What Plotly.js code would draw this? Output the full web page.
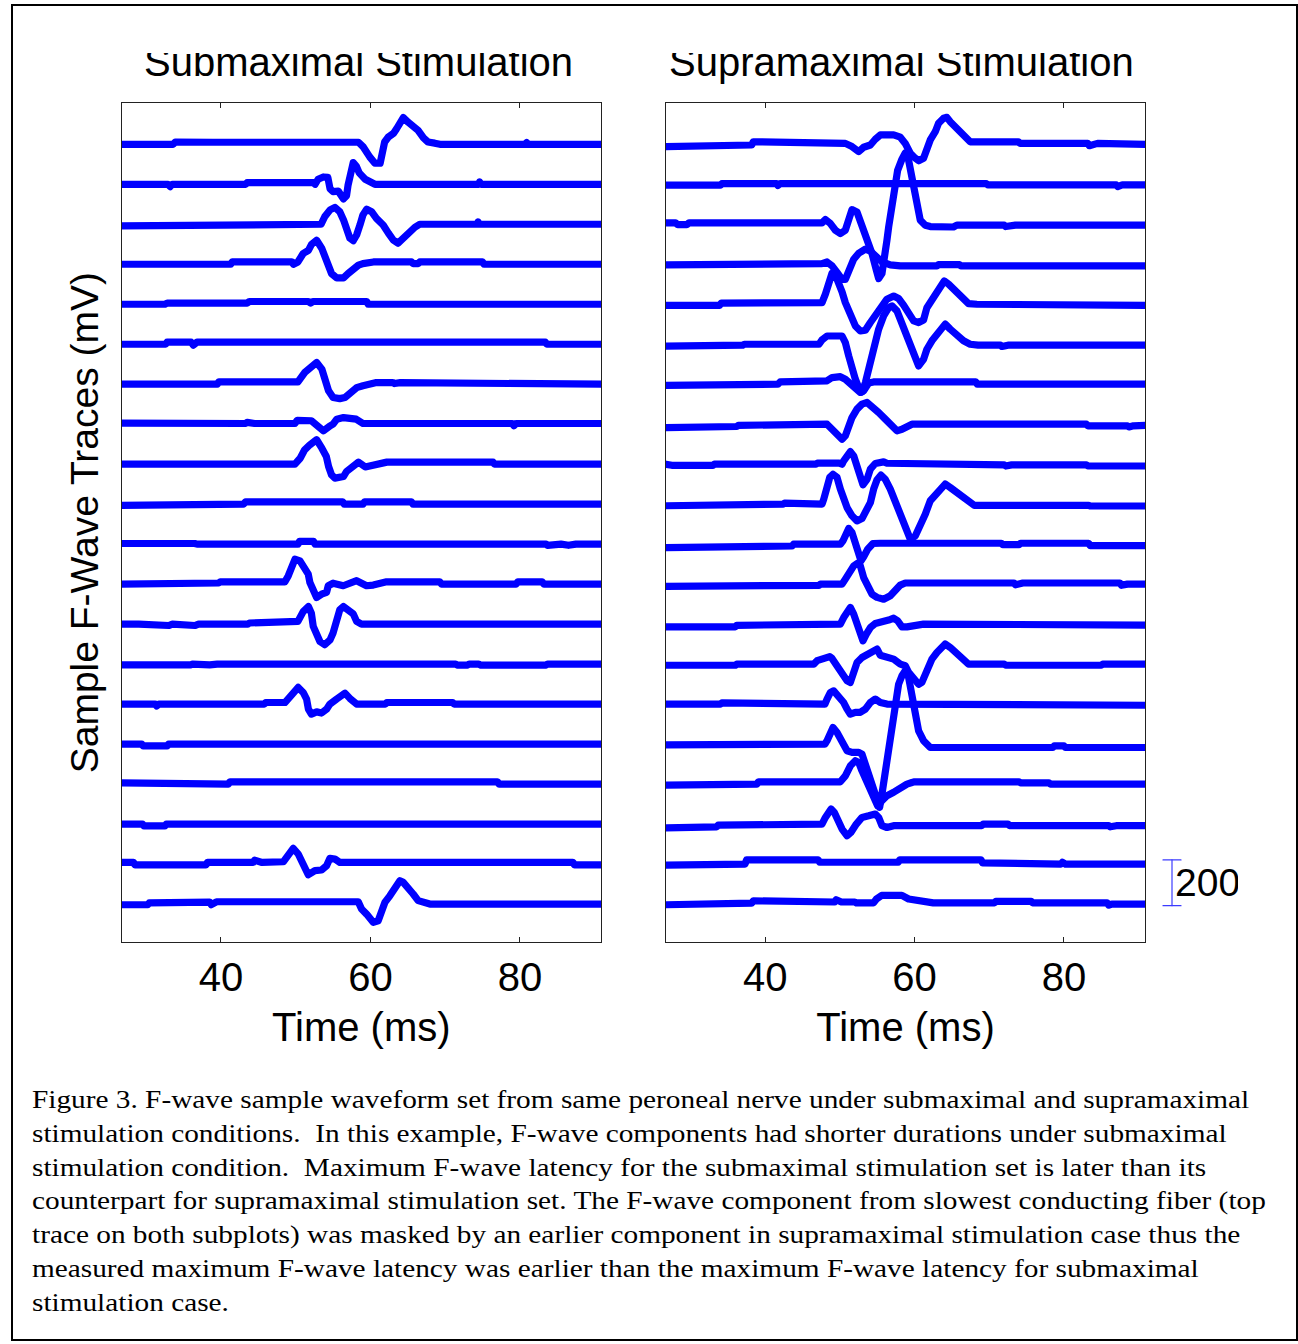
<!DOCTYPE html>
<html>
<head>
<meta charset="utf-8">
<script src="https://cdn.plot.ly/plotly-3.0.1.min.js"></script>
<style>
  html, body { margin: 0; padding: 0; background: #fff; }
  #page { position: relative; width: 1298px; height: 1344px; overflow: hidden; background: #fff; }
  #chart { position: absolute; left: 0; top: 0; width: 1298px; height: 1344px; }
  #chart .scatterlayer path.js-line { stroke-linejoin: round !important; stroke-linecap: round !important; }
  #frame { position: absolute; left: 11px; top: 4px; width: 1287px; height: 1337px; box-sizing: border-box; border: 2px solid #000; pointer-events: none; }
  #clipTitle { position: absolute; left: 120px; top: 14px; width: 1040px; height: 39px; background: #fff; }
  #clipScale { position: absolute; left: 1238px; top: 850px; width: 50px; height: 70px; background: #fff; }
  #caption { position: absolute; left: 32px; top: 1083px; font-family: "Liberation Serif", "Times New Roman", serif; font-size: 25px; line-height: 33.8px; color: #000; white-space: nowrap; transform: scaleX(1.172); transform-origin: left top; }
</style>
</head>
<body>
<div id="page">
  <div id="chart"></div>
  <div id="clipTitle"></div>
  <div id="clipScale"></div>
  <div id="caption">Figure 3. F-wave sample waveform set from same peroneal nerve under submaximal and supramaximal<br>stimulation conditions.&nbsp; In this example, F-wave components had shorter durations under submaximal<br>stimulation condition.&nbsp; Maximum F-wave latency for the submaximal stimulation set is later than its<br>counterpart for supramaximal stimulation set. The F-wave component from slowest conducting fiber (top<br>trace on both subplots) was masked by an earlier component in supramaximal stimulation case thus the<br>measured maximum F-wave latency was earlier than the maximum F-wave latency for submaximal<br>stimulation case.</div>
  <div id="frame"></div>
</div>
<script>
// ---- Data: [time (ms), amplitude] pairs, traces listed top to bottom ----
const panelTitles = ["Submaximal Stimulation", "Supramaximal Stimulation"];
const xTickVals = [40, 60, 80];
const xTitle = "Time (ms)";
const yTitle = "Sample F-Wave Traces (mV)";
const scaleBarLabel = "200";
const scaleBarValue = 200;
const scaleBarBase = -7;

// Submaximal stimulation traces
const sub01 = [[26.7,0],[33.6,0],[33.9,10],[34.8,9],[37.9,9],[38.2,3],[38.6,3],[38.9,9],[58.4,9],[59.0,-10],[59.9,-55],[60.6,-83],[61.3,-83],[61.9,10],[62.4,32],[63.1,48],[63.5,68],[64.4,117],[65.1,95],[65.7,78],[66.4,60],[67.1,28],[67.7,10],[68.6,5],[69.3,0],[80.7,0],[80.9,8],[81.1,0],[90.9,0]];
const sub02 = [[26.7,0],[32.9,0],[33.2,-10],[33.5,0],[43.3,0],[43.5,7],[52.4,7],[52.6,0],[53.0,22],[53.7,32],[54.3,30],[54.6,-20],[55.0,-32],[55.7,-30],[56.4,-64],[56.8,-50],[57.0,-5],[57.3,58],[57.7,95],[58.1,80],[58.5,50],[59.3,22],[60.1,3],[60.6,0],[74.5,0],[74.6,10],[74.8,0],[90.9,0]];
const sub03 = [[26.7,-7],[29.8,-7],[30.0,0],[31.0,-4],[31.5,0],[32.5,-4],[33.0,0],[34.0,-5],[34.3,0],[53.4,0],[53.9,34],[54.6,63],[55.25,74],[55.9,55],[56.4,19],[56.9,-25],[57.25,-61],[57.7,-72],[58.15,-47],[58.6,-3],[59.0,41],[59.5,66],[60.15,55],[60.8,26],[61.7,-3],[62.4,-39],[63.05,-69],[63.7,-83],[64.4,-61],[64.8,-39],[65.5,-25],[65.95,-13],[66.6,0],[74.3,0],[74.4,10],[74.6,0],[90.9,0]];
const sub04 = [[26.7,0],[41.3,0],[41.5,10],[44.1,10],[44.3,3],[44.6,10],[49.5,10],[49.7,0],[50.3,10],[51.0,47],[51.7,61],[52.1,86],[52.8,105],[53.5,69],[54.1,25],[54.6,-19],[54.8,-41],[55.5,-60],[56.4,-60],[57.0,-41],[57.7,-19],[58.4,-4],[59.0,3],[60.4,10],[65.5,10],[65.7,3],[66.4,3],[66.6,10],[75.0,10],[75.2,0],[90.9,0]];
const sub05 = [[26.7,0],[28.0,5],[28.5,0],[32.5,0],[32.8,5],[43.5,5],[43.8,12],[51.7,12],[52.0,5],[52.3,12],[59.5,12],[59.7,0],[89.9,0],[90.2,-6],[90.9,0]];
const sub06 = [[26.7,0],[32.6,0],[32.8,9],[36.0,9],[36.3,-4],[36.8,9],[83.4,9],[83.6,0],[90.9,0]];
const sub07 = [[26.7,0],[39.5,0],[39.7,10],[50.3,10],[51.2,51],[51.9,73],[52.8,95],[53.5,66],[53.9,30],[54.2,-5],[54.4,-29],[55.0,-58],[55.9,-63],[56.6,-58],[57.25,-36],[58.15,-15],[59.0,-7],[60.8,7],[63.0,7],[63.2,3],[64.0,7],[75.5,7],[75.7,0],[90.9,0]];
const sub08 = [[26.7,5],[27.2,5],[27.5,0],[34.0,0],[34.3,3],[43.3,3],[43.5,8],[44.5,3],[49.9,3],[50.2,17],[52.1,15],[53.0,-5],[53.7,-29],[54.6,-7],[55.0,0],[55.5,22],[56.4,29],[58.1,22],[59.0,3],[79.0,3],[79.2,-7],[79.5,3],[90.9,3]];
const sub09 = [[26.7,0],[36.0,0],[36.2,5],[38.0,5],[38.2,0],[49.9,0],[50.6,26],[51.2,63],[51.9,85],[52.8,107],[53.5,70],[54.1,34],[54.4,-10],[54.8,-47],[55.25,-61],[56.4,-54],[56.8,-32],[57.5,-18],[58.4,9],[59.3,-12],[60.4,-6],[62.2,9],[76.4,9],[76.6,0],[90.9,0]];
const sub10 = [[26.7,-5],[31.0,-5],[31.3,0],[43.0,0],[43.3,10],[56.3,10],[56.5,0],[59.0,0],[59.2,10],[65.5,10],[65.7,0],[90.9,0]];
const sub11 = [[26.7,3],[28.0,0],[28.5,3],[36.5,3],[36.8,0],[50.3,0],[50.5,12],[52.4,12],[52.6,0],[83.5,0],[83.7,-5],[85.5,0],[86.5,-5],[87.5,0],[90.9,0]];
const sub12 = [[26.7,0],[37.7,0],[37.9,5],[39.7,5],[39.9,10],[48.56,10],[49.0,36],[49.45,80],[49.9,109],[50.57,102],[51.0,80],[51.68,44],[51.9,7],[52.35,-29],[52.8,-58],[53.46,-44],[54.13,-36],[54.36,-7],[55.0,4],[56.36,-7],[58.15,15],[59.48,-7],[60.37,-4],[62.16,10],[69.3,10],[69.5,0],[79.5,0],[79.7,10],[83.0,10],[83.2,0],[90.9,0]];
const sub13 = [[26.7,0],[28.5,-6],[29.0,0],[33.0,-6],[33.5,0],[36.5,-6],[37.0,0],[43.6,0],[43.8,5],[50.3,12],[51.0,55],[51.7,77],[52.1,48],[52.35,-10],[52.8,-47],[53.24,-76],[53.9,-90],[54.6,-69],[55.0,-39],[55.5,19],[55.9,63],[56.4,77],[57.0,63],[57.7,45],[58.15,12],[58.8,0],[90.9,0]];
const sub14 = [[26.7,-3],[30.0,0],[30.5,-3],[36.0,-3],[36.2,0],[38.5,-3],[39.5,0],[71.4,0],[71.6,-4],[73.0,-4],[73.2,0],[74.5,0],[74.7,-4],[83.5,-4],[83.7,0],[90.9,0]];
const sub15 = [[26.7,0],[31.2,0],[31.4,-8],[31.7,0],[45.8,0],[46.0,7],[48.56,7],[49.45,44],[50.34,73],[51.0,51],[51.46,22],[51.7,-22],[52.1,-44],[52.8,-34],[53.46,-39],[54.13,-22],[54.58,0],[55.47,22],[56.59,48],[57.25,25],[58.15,0],[62.0,0],[62.2,7],[71.0,7],[71.2,0],[90.9,0]];
const sub16 = [[26.7,0],[29.4,0],[29.6,-8],[32.8,-8],[33.0,0],[49.5,0],[49.7,6],[49.9,0],[52.1,0],[52.3,6],[52.5,0],[90.9,0]];
const sub17 = [[26.7,5],[28.3,5],[28.5,0],[41.0,0],[41.2,10],[77.0,10],[77.2,0],[90.9,0]];
const sub18 = [[26.7,0],[29.5,0],[29.7,-8],[32.5,-8],[32.7,0],[45.8,0],[46.0,7],[48.7,7],[48.9,0],[53.1,0],[53.3,7],[53.5,0],[60.5,0],[60.7,7],[61.5,0],[90.9,0]];
const sub19 = [[26.7,7],[28.3,7],[28.5,-4],[38.0,-4],[38.2,7],[44.3,7],[44.5,17],[45.5,7],[48.34,10],[49.0,44],[49.67,69],[50.34,44],[50.79,7],[51.24,-29],[51.68,-47],[52.57,-29],[53.46,-26],[54.13,-7],[54.58,25],[55.25,22],[55.92,7],[87.1,7],[87.3,-4],[90.9,-4]];
const sub20 = [[26.7,-3],[30.2,-3],[30.4,5],[38.5,8],[38.7,-3],[39.4,10],[58.37,10],[58.81,-22],[59.48,-44],[59.93,-66],[60.37,-80],[61.04,-73],[61.49,-36],[61.93,7],[62.6,36],[63.27,66],[63.94,102],[64.39,95],[65.06,73],[65.72,44],[66.39,15],[67.28,4],[67.95,0],[90.9,0]];

// Supramaximal stimulation traces
const sup01 = [[26.7,-10],[30.8,-10],[31.0,-3],[38.2,-3],[38.4,11],[50.06,11],[50.73,4],[51.62,-10],[52.52,-32],[53.18,-13],[54.08,-3],[54.74,22],[55.41,41],[57.2,41],[58.09,31],[58.75,4],[59.42,-39],[60.09,-61],[60.54,-72],[61.2,-61],[61.65,-10],[62.1,19],[62.77,55],[63.21,92],[63.88,114],[64.32,118],[64.77,99],[65.44,77],[66.11,48],[66.78,22],[67.44,11],[73.9,11],[74.1,4],[83.2,4],[83.4,-6],[84.5,4],[86.0,4],[86.2,0],[90.9,0]];
const sup02 = [[26.7,-4],[29.6,-4],[29.8,-10],[30.2,-4],[34.0,-4],[34.2,3],[41.5,3],[41.7,-5],[42.0,3],[69.6,3],[69.8,-3],[87.0,-3],[87.2,-10],[87.8,-3],[90.9,-3]];
const sup03 = [[26.7,6],[28.0,6],[28.3,-2],[29.5,-2],[29.8,6],[37.5,6],[37.8,0],[38.4,6],[47.6,6],[48.06,21],[48.73,3],[49.4,-26],[50.06,-41],[50.73,-26],[51.18,32],[51.62,64],[52.29,54],[52.96,0],[53.63,-55],[54.3,-128],[54.88,-201],[55.19,-238],[55.63,-216],[56.08,-143],[56.3,-70],[56.53,-12],[56.97,91],[57.42,178],[57.73,236],[58.31,285],[58.75,312],[59.2,280],[59.65,207],[59.96,149],[60.31,61],[60.76,18],[61.43,-4],[62.1,-10],[65.2,-12],[65.66,-4],[72.0,-4],[72.2,-10],[73.5,-4],[77.5,-4],[77.7,-10],[78.3,-4],[86.0,-4],[86.2,-10],[86.5,-4],[90.9,-4]];
const sup04 = [[26.7,-3],[30.8,-3],[31.0,3],[37.0,3],[37.2,-3],[38.0,3],[47.6,3],[48.28,10],[48.95,-7],[49.62,-36],[50.29,-66],[50.73,-66],[51.18,-29],[51.85,22],[52.52,48],[53.41,66],[54.08,58],[54.74,36],[55.63,10],[56.75,-3],[58.09,-7],[63.0,-7],[63.2,-2],[66.0,-2],[66.2,-7],[90.9,-7]];
const sup05 = [[26.7,-5],[33.9,-5],[34.1,5],[36.1,5],[36.3,0],[45.5,0],[45.7,7],[47.61,7],[48.06,44],[48.5,95],[48.95,136],[49.26,139],[49.62,112],[50.29,54],[50.73,7],[51.4,-51],[52.07,-95],[52.74,-117],[53.41,-114],[54.08,-80],[54.74,-48],[55.41,-10],[56.3,22],[57.2,36],[57.86,25],[58.53,-4],[59.2,-36],[59.87,-73],[60.54,-80],[61.2,-69],[61.65,-15],[62.1,10],[62.77,48],[63.43,83],[63.97,102],[64.55,88],[65.22,66],[65.88,44],[66.55,15],[67.22,3],[68.34,0],[74.9,0],[75.1,-5],[83.5,-5],[83.7,0],[84.5,-5],[90.9,-5]];
const sup06 = [[26.7,-8],[29.5,-8],[29.8,-4],[37.0,-4],[37.2,0],[47.2,0],[47.61,19],[48.28,36],[50.29,36],[50.73,7],[51.18,-51],[51.62,-109],[52.07,-153],[52.52,-190],[52.96,-209],[53.41,-168],[53.85,-109],[54.3,-51],[54.74,15],[55.19,66],[55.86,124],[56.53,160],[56.97,168],[57.64,146],[58.09,109],[58.75,51],[59.42,-7],[60.09,-58],[60.54,-95],[61.2,-66],[61.65,-22],[62.32,15],[62.99,44],[63.66,77],[64.1,88],[64.77,66],[65.66,36],[66.55,15],[67.44,0],[68.5,-4],[71.5,-4],[71.7,-10],[72.5,-4],[90.9,-4]];
const sup07 = [[26.7,-5],[33.5,-5],[33.7,0],[41.7,0],[42.0,10],[47.84,10],[48.28,15],[48.95,29],[50.06,33],[50.73,22],[51.4,0],[52.07,-22],[52.74,-36],[53.18,-29],[53.85,5],[54.5,10],[68.2,10],[68.4,0],[78.3,0],[78.5,-6],[78.8,0],[90.9,0]];
const sup08 = [[26.7,-15],[31.0,-15],[31.2,-10],[36.2,-10],[36.4,-5],[43.4,-5],[43.6,0],[48.28,0],[48.95,-22],[49.62,-44],[50.29,-66],[50.73,-51],[51.18,-7],[51.62,29],[52.29,66],[52.96,88],[53.63,95],[54.3,80],[55.19,51],[56.08,22],[56.97,-7],[57.64,-29],[58.31,-22],[58.98,-7],[59.65,0],[83.0,0],[83.2,-7],[88.5,-7],[88.7,-12],[89.3,-7],[90.9,-5]];
const sup09 = [[26.7,0],[27.5,-5],[33.0,-5],[33.2,0],[46.8,0],[47.0,5],[49.9,5],[50.29,0],[50.51,15],[50.96,36],[51.4,55],[51.85,36],[52.29,-15],[52.74,-66],[53.09,-90],[53.63,-66],[54.08,-22],[54.74,3],[55.19,7],[55.86,10],[56.3,4],[62.99,4],[63.43,-3],[72.0,-3],[72.2,-8],[73.0,-3],[83.0,-3],[83.2,-8],[90.9,-8]];
const sup10 = [[26.7,-7],[34.6,-7],[34.8,0],[42.4,0],[42.6,5],[47.4,5],[47.61,0],[47.84,22],[48.28,80],[48.64,117],[49.08,131],[49.62,117],[50.06,66],[50.51,15],[50.96,-15],[51.62,-51],[52.29,-73],[52.96,-63],[53.63,-29],[54.08,7],[54.52,66],[54.97,107],[55.5,127],[56.08,109],[56.75,66],[57.42,7],[58.09,-58],[58.75,-109],[59.42,-153],[60.09,-139],[60.76,-95],[61.43,-44],[62.1,15],[62.99,51],[63.66,80],[64.1,88],[64.77,73],[65.66,51],[66.55,22],[67.44,0],[68.0,-5],[83.3,-5],[83.5,-8],[90.9,-8]];
const sup11 = [[26.7,-15],[28.5,-15],[28.7,-10],[30.0,-15],[32.0,-15],[32.2,-10],[38.0,-8],[43.6,-8],[43.8,0],[50.06,0],[50.42,15],[50.73,44],[51.18,69],[51.62,51],[52.07,7],[52.43,-36],[52.83,-73],[53.18,-55],[53.72,-22],[54.43,3],[55.41,4],[71.6,4],[71.8,-2],[74.0,-2],[74.2,4],[83.3,4],[83.5,-6],[90.9,-6]];
const sup12 = [[26.7,-10],[29.0,-10],[29.3,-5],[30.0,-10],[38.5,-10],[38.7,-5],[47.2,-5],[47.4,0],[50.29,0],[50.73,22],[51.31,58],[51.85,80],[52.38,92],[52.74,80],[53.18,29],[53.72,-15],[54.3,-44],[54.97,-58],[55.86,-66],[56.75,-51],[57.42,-22],[58.09,-4],[58.75,5],[73.3,5],[73.5,-3],[74.5,5],[87.5,5],[87.7,-5],[88.5,0],[90.9,0]];
const sup13 = [[26.7,-12],[28.4,-12],[28.6,-18],[30.3,-18],[30.5,-12],[36.0,-12],[36.2,-5],[41.0,-5],[41.2,0],[50.06,0],[50.51,29],[50.96,58],[51.4,73],[51.85,44],[52.29,0],[52.74,-51],[53.09,-73],[53.54,-44],[54.08,-15],[54.74,3],[55.63,7],[56.53,18],[57.2,26],[57.73,15],[58.31,-12],[58.98,-12],[61.2,0],[69.5,0],[69.7,-4],[72.0,-4],[72.2,0],[83.5,0],[83.7,-4],[90.9,-4]];
const sup14 = [[26.7,-5],[28.4,-5],[28.6,-10],[31.0,-10],[31.2,-5],[36.0,-5],[36.2,0],[46.5,0],[46.95,15],[47.84,25],[48.64,33],[48.95,25],[49.62,-7],[50.29,-44],[50.96,-73],[51.4,-80],[51.85,-36],[52.29,7],[52.96,29],[53.85,44],[54.52,58],[54.97,66],[55.41,39],[56.3,33],[57.2,22],[58.09,0],[58.75,-7],[59.2,-36],[59.87,-58],[60.54,-88],[60.98,-80],[61.43,-44],[61.87,-7],[62.32,22],[62.99,51],[63.66,80],[64.1,88],[64.77,73],[65.66,44],[66.55,15],[67.22,0],[72.0,0],[72.2,-5],[85.0,-5],[85.2,0],[90.9,0]];
const sup15 = [[26.7,0],[28.3,0],[28.5,-7],[29.0,0],[34.0,0],[34.2,5],[38.5,5],[38.7,0],[48.0,0],[48.28,22],[48.73,51],[49.17,58],[49.84,36],[50.51,7],[50.96,-22],[51.4,-44],[52.07,-36],[52.74,-36],[53.41,-22],[54.08,7],[54.74,22],[55.41,7],[56.3,0],[63.88,0],[64.1,-5],[78.5,-5],[78.7,2],[79.0,-5],[90.9,-5]];
const sup16 = [[26.7,-3],[31.0,-3],[31.2,3],[38.5,3],[38.7,0],[48.0,0],[48.28,15],[48.73,51],[49.08,73],[49.62,51],[50.29,7],[50.96,-29],[51.62,-36],[52.52,-36],[52.96,-44],[53.63,-117],[54.3,-182],[54.88,-241],[55.32,-277],[55.63,-219],[56.08,-131],[56.53,-36],[56.97,58],[57.42,153],[57.86,262],[58.31,299],[58.75,321],[59.2,292],[59.65,219],[60.09,146],[60.54,58],[61.2,15],[62.1,-15],[78.5,-15],[78.7,-8],[80.0,-8],[80.2,-15],[90.9,-15]];
const sup17 = [[26.7,-5],[33.9,-5],[34.1,0],[38.9,0],[39.1,10],[50.06,10],[50.73,36],[51.4,80],[52.07,102],[52.52,95],[52.96,58],[53.63,7],[54.3,-51],[55.05,-95],[55.63,-73],[56.3,-51],[57.2,-36],[58.09,-15],[58.98,0],[59.65,7],[60.0,10],[74.0,10],[74.2,5],[78.0,5],[78.2,0],[90.9,0]];
const sup18 = [[26.7,-17],[28.5,-17],[28.7,-12],[33.5,-12],[33.7,-5],[41.0,-5],[41.2,0],[47.6,0],[48.06,29],[48.5,58],[48.82,66],[49.26,51],[49.71,15],[50.29,-22],[50.96,-51],[51.49,-36],[52.2,0],[52.96,29],[53.85,36],[54.74,44],[55.19,29],[55.63,-7],[56.3,-15],[57.2,-7],[69.0,-7],[69.2,0],[72.5,0],[72.7,-7],[86.0,-7],[86.2,-12],[87.0,-7],[90.9,-7]];
const sup19 = [[26.7,-5],[30.6,-5],[30.8,0],[37.3,0],[37.5,18],[47.1,18],[47.3,8],[50.0,8],[50.2,12],[51.0,8],[57.8,8],[58.0,18],[68.9,18],[69.1,5],[72.0,5],[72.2,0],[79.6,0],[79.8,8],[80.2,0],[90.9,0]];
const sup20 = [[26.7,-3],[32.2,-3],[32.4,4],[38.2,4],[38.4,14],[40.9,14],[41.1,9],[49.3,9],[49.5,19],[50.2,9],[52.0,9],[52.2,5],[54.5,5],[54.9,22],[55.6,38],[58.3,38],[59.2,22],[61.0,9],[62.5,5],[70.7,5],[70.9,12],[75.6,12],[75.8,5],[85.8,5],[86.0,-5],[86.4,0],[90.9,0]];

const subTraces = [sub01,sub02,sub03,sub04,sub05,sub06,sub07,sub08,sub09,sub10,sub11,sub12,sub13,sub14,sub15,sub16,sub17,sub18,sub19,sub20];
const supTraces = [sup01,sup02,sup03,sup04,sup05,sup06,sup07,sup08,sup09,sup10,sup11,sup12,sup13,sup14,sup15,sup16,sup17,sup18,sup19,sup20];

// ---- Styling / layout constants ----
const traceSpacing = 175;
const lineColor = 'rgb(0,0,255)';
const fontSans = '"Liberation Sans", Arial, Helvetica, sans-serif';
const xRange = [26.72, 90.85];
const yRange = [-166.1, 3504.4];
const yDomain = [0.29911, 0.92314];

function buildTraces(sets, xa, ya) {
  const n = sets.length;
  return sets.map((set, i) => {
    const off = (n - 1 - i) * traceSpacing;
    return {
      type: 'scatter', mode: 'lines', xaxis: xa, yaxis: ya,
      x: set.map(p => p[0]),
      y: set.map(p => p[1] + off),
      line: { color: lineColor, width: 7.2, shape: 'linear' },
      hoverinfo: 'skip', showlegend: false
    };
  });
}

const data = [].concat(
  buildTraces(subTraces, 'x', 'y'),
  buildTraces(supTraces, 'x2', 'y2')
);

// scale bar (drawn through its own overlay axis sharing the right panel's y scale)
const barTop = scaleBarBase + scaleBarValue;
data.push({
  type: 'scatter', mode: 'lines', xaxis: 'x3', yaxis: 'y3',
  x: [13, 31, null, 22, 22, null, 13, 31],
  y: [barTop, barTop, null, scaleBarBase, barTop, null, scaleBarBase, scaleBarBase],
  line: { color: 'rgb(60,60,255)', width: 1.2 },
  hoverinfo: 'skip', showlegend: false
});

function xAxis(domain, anchor) {
  return {
    domain: domain, anchor: anchor, range: xRange,
    tickmode: 'array', tickvals: xTickVals, ticktext: xTickVals.map(String),
    ticks: 'inside', ticklen: 5, tickwidth: 1, tickcolor: '#222',
    showline: true, linecolor: '#222', linewidth: 1, mirror: 'ticks',
    showgrid: false, zeroline: false,
    tickfont: { family: fontSans, size: 40, color: '#000' },
    ticklabelstandoff: 0,
    title: { text: xTitle, font: { family: fontSans, size: 40, color: '#000' }, standoff: 15 },
    automargin: false, fixedrange: true
  };
}
function yAxis(domain, anchor, withTitle) {
  const ax = {
    domain: domain, anchor: anchor, range: yRange,
    showticklabels: false, ticks: '',
    showline: true, linecolor: '#222', linewidth: 1, mirror: true,
    showgrid: false, zeroline: false, automargin: false, fixedrange: true
  };
  if (withTitle) ax.title = { text: yTitle, font: { family: fontSans, size: 39, color: '#000' }, standoff: 10 };
  return ax;
}

const layout = {
  width: 1298, height: 1344,
  margin: { l: 0, r: 0, t: 0, b: 0, pad: 0 },
  paper_bgcolor: 'rgba(0,0,0,0)', plot_bgcolor: '#fff',
  showlegend: false,
  font: { family: fontSans, color: '#000' },
  xaxis: xAxis([0.09376, 0.46302], 'y'),
  yaxis: yAxis(yDomain, 'x', true),
  xaxis2: xAxis([0.51310, 0.88213], 'y2'),
  yaxis2: yAxis(yDomain, 'x2', false),
  xaxis3: { domain: [0.88598, 0.95532], anchor: 'y3', range: [0, 90], visible: false, fixedrange: true },
  yaxis3: { domain: yDomain, anchor: 'x3', range: yRange, visible: false, fixedrange: true },
  annotations: [
    { text: panelTitles[0], xref: 'paper', yref: 'paper', x: 0.2762, y: 0.93586, xanchor: 'center', yanchor: 'bottom', showarrow: false, font: { family: fontSans, size: 40, color: '#000' } },
    { text: panelTitles[1], xref: 'paper', yref: 'paper', x: 0.6945, y: 0.93586, xanchor: 'center', yanchor: 'bottom', showarrow: false, font: { family: fontSans, size: 40, color: '#000' } },
    { text: scaleBarLabel, xref: 'x3', yref: 'y3', x: 23, y: scaleBarBase + scaleBarValue / 2, xanchor: 'left', yanchor: 'middle', showarrow: false, font: { family: fontSans, size: 39, color: '#000' } }
  ]
};

Plotly.newPlot('chart', data, layout, { displayModeBar: false, staticPlot: true, responsive: false });
</script>
</body>
</html>
